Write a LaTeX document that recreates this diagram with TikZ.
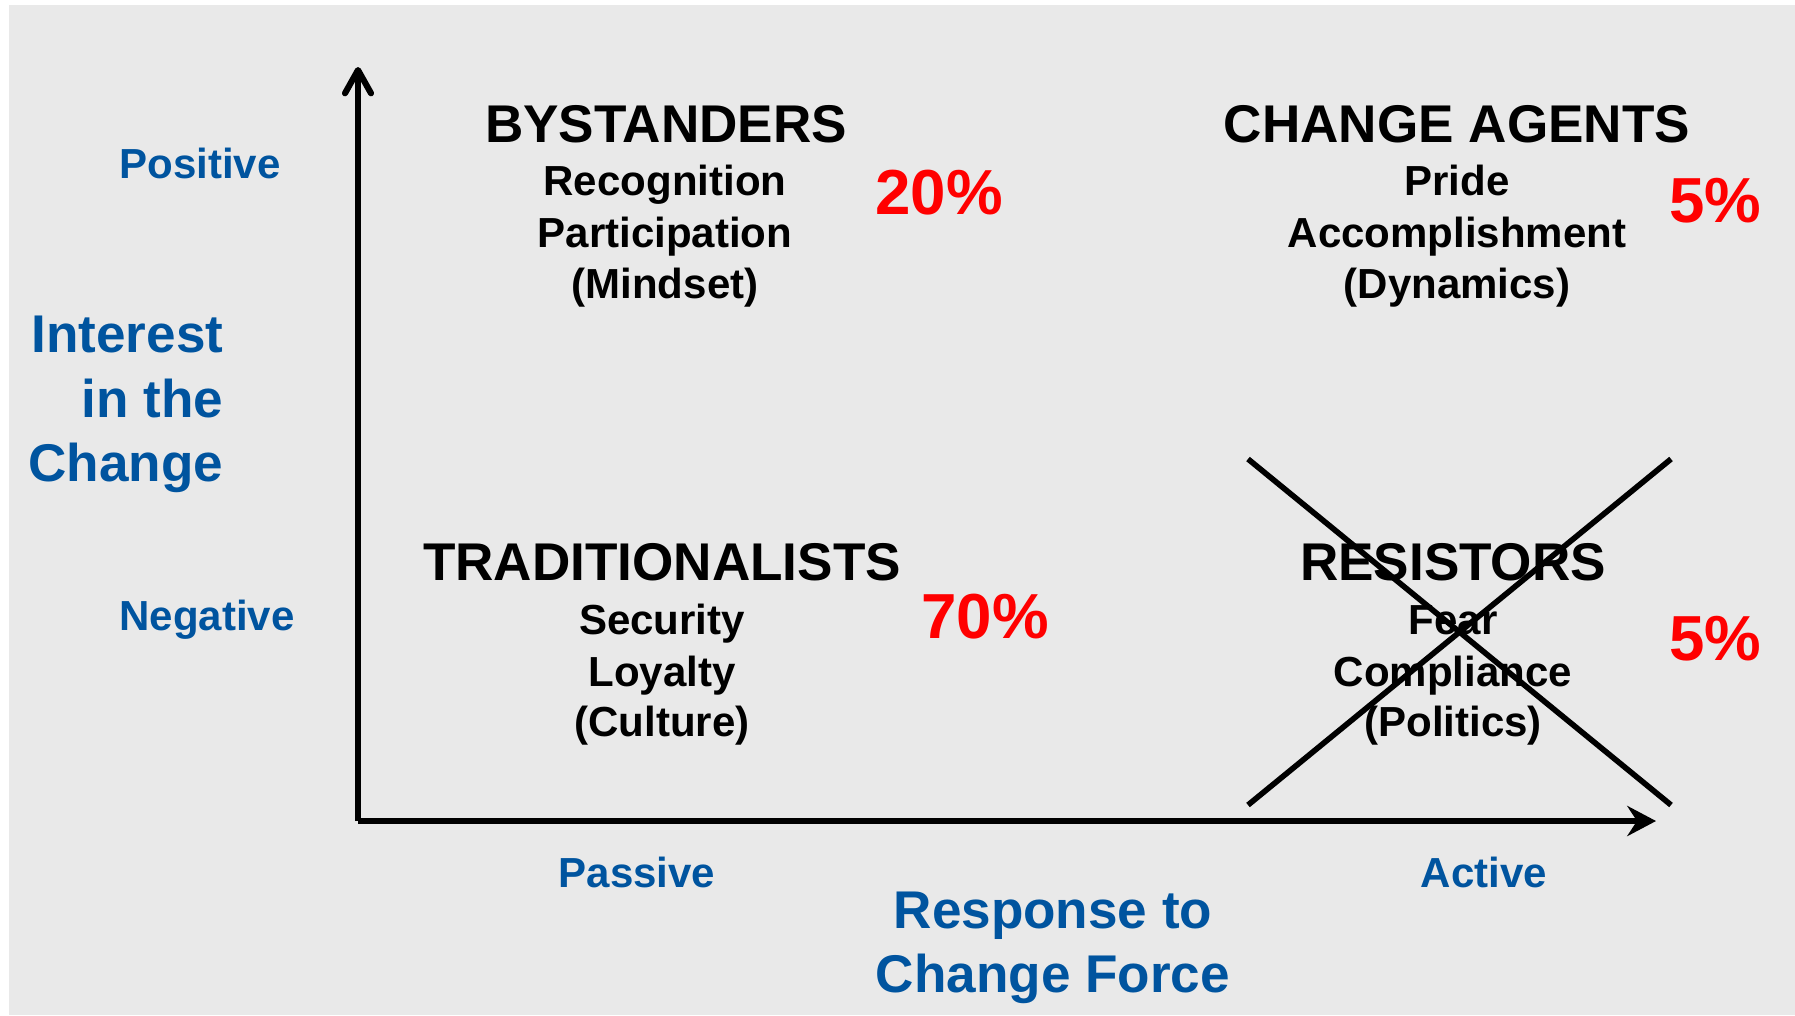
\documentclass[tikz,border=0pt]{standalone}
\usepackage{fontspec}
\setmainfont{Liberation Sans}
\usetikzlibrary{arrows.meta}
\definecolor{bg}{RGB}{233,233,233}
\definecolor{axisblue}{RGB}{0,84,159}
\definecolor{pctred}{RGB}{255,0,0}
\tikzset{
  axislbl/.style={font=\bfseries\fontsize{11.95pt}{14pt}\selectfont, text=axisblue, anchor=base, inner sep=0pt},
  axistitle/.style={font=\bfseries\fontsize{15.1pt}{18pt}\selectfont, text=axisblue, anchor=base, inner sep=0pt},
  grouptitle/.style={font=\bfseries\fontsize{15.1pt}{18pt}\selectfont, text=black, anchor=base, inner sep=0pt},
  groupline/.style={font=\bfseries\fontsize{11.95pt}{14pt}\selectfont, text=black, anchor=base, inner sep=0pt},
  pct/.style={font=\bfseries\fontsize{18.1pt}{22pt}\selectfont, text=pctred, anchor=base, inner sep=0pt},
  axisline/.style={line width=1.75pt},
  crossline/.style={line width=1.6pt},
}
\begin{document}
\begin{tikzpicture}[x=0.01cm, y=-0.01cm]
\useasboundingbox (0,0) rectangle (1795,1015);
\fill[bg] (9,5) rectangle (1795,1015);

% axes
\coordinate (origin) at (358,821);
\coordinate (ytop) at (358,67);
\coordinate (xend) at (1656,821);
\draw[axisline, -{Straight Barb[length=6.6pt, width=7.4pt, line cap=round, line join=round]}] (origin) -- (ytop);
\draw[axisline, -{Stealth[length=8.2pt, width=8.6pt, inset=2.8pt]}] (origin) -- (xend);

% axis labels
\node[axislbl] (pos) at (200,178) {Positive};
\node[axislbl] (neg) at (207,630) {Negative};
\node[axistitle, anchor=base east] (int1) at (224,352) {Interest};
\node[axistitle, anchor=base east] (int2) at (224,417) {in the};
\node[axistitle, anchor=base east] (int3) at (224,481) {Change};
\node[axislbl] (pas) at (637,887) {Passive};
\node[axislbl] (act) at (1484,887) {Active};
\node[axistitle] (resp1) at (1053,928) {Response to};
\node[axistitle] (resp2) at (1053,992) {Change Force};

% Bystanders
\node[grouptitle] (by) at (666,142) {BYSTANDERS};
\node[groupline] (by1) at (665,195) {Recognition};
\node[groupline] (by2) at (665,247) {Participation};
\node[groupline] (by3) at (665,298) {(Mindset)};
\node[pct] (byp) at (939,214) {20\%};

% Change agents
\node[grouptitle] (ca) at (1457,142) {CHANGE AGENTS};
\node[groupline] (ca1) at (1457,195) {Pride};
\node[groupline] (ca2) at (1457,247) {Accomplishment};
\node[groupline] (ca3) at (1457,298) {(Dynamics)};
\node[pct] (cap) at (1715,222) {5\%};

% Traditionalists
\node[grouptitle] (tr) at (662,580) {TRADITIONALISTS};
\node[groupline] (tr1) at (662,634) {Security};
\node[groupline] (tr2) at (662,686) {Loyalty};
\node[groupline] (tr3) at (662,736) {(Culture)};
\node[pct] (trp) at (985,638) {70\%};

% Resistors
\node[grouptitle] (re) at (1453,580) {RESISTORS};
\node[groupline] (re1) at (1453,634) {Fear};
\node[groupline] (re2) at (1453,686) {Compliance};
\node[groupline] (re3) at (1453,736) {(Politics)};
\node[pct] (rep) at (1715,660) {5\%};

% cross
\coordinate (c1) at (1248,459);
\coordinate (c2) at (1671,805);
\coordinate (c3) at (1671,459);
\coordinate (c4) at (1248,805);
\draw[crossline] (c1) -- (c2);
\draw[crossline] (c3) -- (c4);
\end{tikzpicture}
\end{document}
